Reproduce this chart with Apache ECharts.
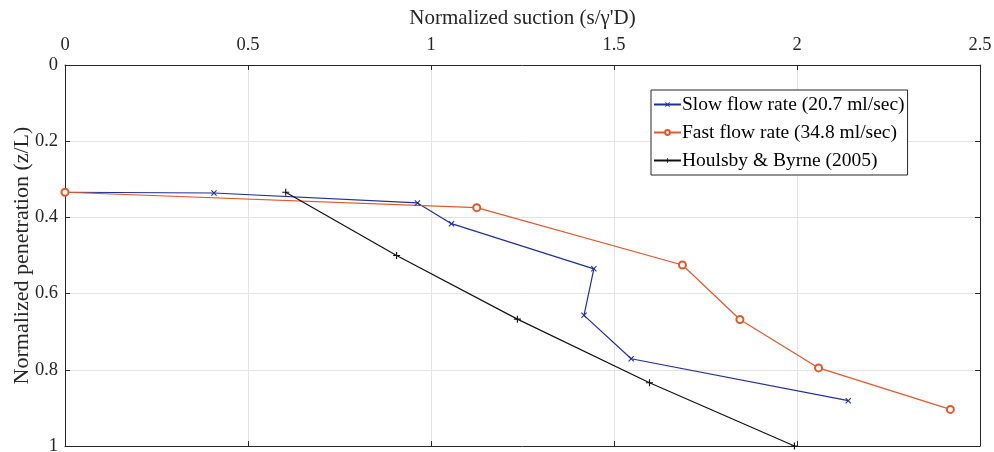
<!DOCTYPE html>
<html><head><meta charset="utf-8">
<script src="https://cdn.jsdelivr.net/npm/echarts@6/dist/echarts.min.js"></script>
<style>html,body{margin:0;padding:0;background:#fff}#c{width:994px;height:452px}</style>
</head><body><div id="c"></div>
<script>
const xTicks = [0, 0.5, 1, 1.5, 2, 2.5];
const yTicks = [0, 0.2, 0.4, 0.6, 0.8, 1];
const seriesNames = ['Slow flow rate (20.7 ml/sec)', 'Fast flow rate (34.8 ml/sec)', 'Houlsby & Byrne (2005)'];
const slowX = [0, 0.407, 0.963, 1.056, 1.445, 1.418, 1.547, 2.140];
const slowY = [0.334, 0.336, 0.362, 0.4165, 0.535, 0.657, 0.771, 0.881];
const fastX = [0, 1.125, 1.687, 1.844, 2.059, 2.419];
const fastY = [0.334, 0.3745, 0.525, 0.668, 0.795, 0.904];
const hbX = [0.603, 0.906, 1.236, 1.597, 1.993];
const hbY = [0.334, 0.5, 0.667, 0.834, 1.0];

const pair = (xs, ys) => xs.map((v, i) => [v, ys[i]]);
const FONT = 'Liberation Serif';
const xMark = 'path://M0,1.3L1.3,0L5,3.7L8.7,0L10,1.3L6.3,5L10,8.7L8.7,10L5,6.3L1.3,10L0,8.7L3.7,5Z';
const plusMark = 'path://M4.2,0H5.8V4.2H10V5.8H5.8V10H4.2V5.8H0V4.2H4.2Z';

const chart = echarts.init(document.getElementById('c'), null, {renderer: 'canvas'});
const axisCommon = {
  min: 0,
  axisLine: {show: true, onZero: false, lineStyle: {color: '#262626', width: 1}},
  axisTick: {show: true, inside: true, length: 5, lineStyle: {color: '#262626'}},
};
chart.setOption({
  animation: false,
  backgroundColor: '#fff',
  grid: {left: 65, top: 65, right: 14, bottom: 6, containLabel: false, outerBoundsMode: 'none'},
  legend: {
    left: 651, top: 90, orient: 'vertical',
    data: seriesNames,
    backgroundColor: '#fff', borderColor: '#262626', borderWidth: 1,
    padding: [4, 3, 4, 2], itemGap: 7, itemWidth: 27, itemHeight: 6,
    textStyle: {fontFamily: FONT, fontSize: 19.5, lineHeight: 21, color: '#000', padding: [0, 0, 0, -4]}
  },
  xAxis: [
    Object.assign({}, axisCommon, {
      type: 'value', position: 'top', max: 2.5, interval: 0.5,
      name: 'Normalized suction (s/\u03B3\'D)', nameLocation: 'middle', nameGap: 36,
      nameTextStyle: {fontFamily: FONT, fontSize: 21, color: '#262626'},
      axisLabel: {fontFamily: FONT, fontSize: 18.5, color: '#262626', margin: 10,
        formatter: v => xTicks.includes(+v.toFixed(2)) ? String(+v.toFixed(2)) : ''},
      splitLine: {show: true, lineStyle: {color: '#e3e3e3', width: 1}}
    }),
    Object.assign({}, axisCommon, {
      type: 'value', position: 'bottom', max: 2.5, interval: 0.5,
      axisLabel: {show: false}, splitLine: {show: false}
    })
  ],
  yAxis: [
    Object.assign({}, axisCommon, {
      type: 'value', position: 'left', inverse: true, max: 1, interval: 0.2,
      name: 'Normalized penetration (z/L)', nameLocation: 'middle', nameGap: 32,
      nameMoveOverlap: false,
      nameTextStyle: {fontFamily: FONT, fontSize: 22, color: '#262626'},
      axisLabel: {fontFamily: FONT, fontSize: 18.5, color: '#262626', margin: 7,
        formatter: v => String(+v.toFixed(2))},
      splitLine: {show: true, lineStyle: {color: '#e3e3e3', width: 1}}
    }),
    Object.assign({}, axisCommon, {
      type: 'value', position: 'right', inverse: true, max: 1, interval: 0.2,
      axisLabel: {show: false}, splitLine: {show: false}
    })
  ],
  series: [
    {name: seriesNames[0], type: 'line', data: pair(slowX, slowY),
     symbol: xMark, symbolSize: 6, color: '#1f2f9c',
     lineStyle: {color: '#1f2f9c', width: 1.2}, itemStyle: {color: '#1f2f9c'}},
    {name: seriesNames[1], type: 'line', data: pair(fastX, fastY),
     symbol: 'emptyCircle', symbolSize: 7, color: '#e4572a',
     lineStyle: {color: '#e4572a', width: 1.2}, itemStyle: {color: '#e4572a', borderWidth: 1.8}},
    {name: seriesNames[2], type: 'line', data: pair(hbX, hbY),
     symbol: plusMark, symbolSize: 7, color: '#111',
     lineStyle: {color: '#111', width: 1.2}, itemStyle: {color: '#111'}}
  ]
});
</script></body></html>
